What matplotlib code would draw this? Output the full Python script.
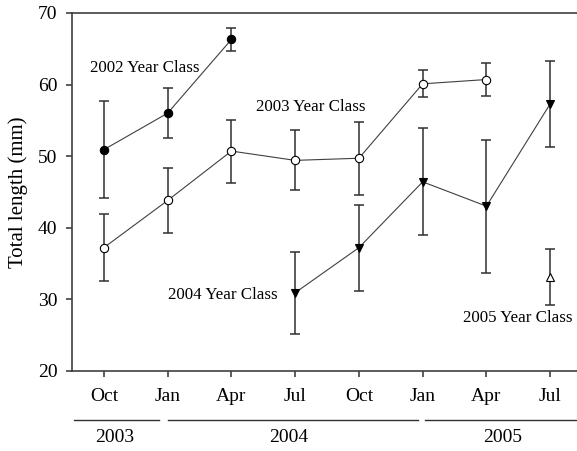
import numpy as np
import matplotlib
matplotlib.use('Agg')
import matplotlib.pyplot as plt
from matplotlib import transforms

plt.rcParams['font.family'] = ['Liberation Serif', 'DejaVu Serif']

months = ['Oct', 'Jan', 'Apr', 'Jul', 'Oct', 'Jan', 'Apr', 'Jul']
years = ['2003', '2004', '2005']

#
# mean total length and sd for each year class, indexed by sampling date
#
x2002 = [0, 1, 2]
len2002 = [50.9, 56.0, 66.3]
sd2002 = [6.8, 3.5, 1.6]

x2003 = [0, 1, 2, 3, 4, 5, 6]
len2003 = [37.2, 43.8, 50.7, 49.4, 49.7, 60.1, 60.7]
sd2003 = [4.7, 4.6, 4.4, 4.2, 5.1, 1.9, 2.3]

x2004 = [3, 4, 5, 6, 7]
len2004 = [30.9, 37.2, 46.4, 43.0, 57.3]
sd2004 = [5.7, 6.0, 7.5, 9.3, 6.0]

x2005 = [7]
len2005 = [33.1]
sd2005 = [3.9]

dark = '#303030'

fig = plt.figure(figsize=(5.77, 4.51), dpi=100)
ax = fig.add_axes([0.1248, 0.178, 0.884, 0.7932])

def draw_class(x, y, sd, marker, face):
    ax.errorbar(x, y, yerr=sd, fmt='none', ecolor=dark, elinewidth=1.1,
                capsize=3.8, capthick=1.1, zorder=2)
    ax.plot(x, y, '-', color='#404040', lw=0.8, zorder=3)
    ax.plot(x, y, linestyle='none', marker=marker, ms=6, mfc=face,
            mec='black', mew=0.8, zorder=4)

draw_class(x2002, len2002, sd2002, 'o', 'black')
draw_class(x2003, len2003, sd2003, 'o', 'white')
draw_class(x2004, len2004, sd2004, 'v', 'black')
draw_class(x2005, len2005, sd2005, '^', 'white')

lab_size = 12.2
ax.text(-0.21, 62.3, '2002 Year Class', fontsize=lab_size, va='center')
ax.text(2.38, 56.9, '2003 Year Class', fontsize=lab_size, va='center')
ax.text(1.01, 30.55, '2004 Year Class', fontsize=lab_size, va='center')
ax.text(5.64, 27.4, '2005 Year Class', fontsize=lab_size, va='center')

ax.set_xlim(-0.5, 7.5)
ax.set_ylim(20, 70)
ax.set_yticks(np.arange(20, 71, 10))
ax.set_xticks(range(len(months)))
ax.set_xticklabels(months)
ax.tick_params(axis='both', direction='out', length=4.5, width=1.1,
               color=dark, labelsize=14, labelcolor='black')
ax.tick_params(axis='y', pad=6)
ax.tick_params(axis='x', pad=8)
ax.set_ylabel('Total length (mm)', fontsize=15, labelpad=7)

for side in ['left', 'top', 'bottom', 'right']:
    ax.spines[side].set_color('#404040')
    ax.spines[side].set_linewidth(1.2)

# year brackets under the month labels
trans = transforms.blended_transform_factory(ax.transData, ax.transAxes)
spans = [(-0.47, 0.86), (1.0, 4.93), (5.04, 7.6)]
centers = [0.17, 2.9, 6.25]
for (x0, x1), xc, yr in zip(spans, centers, years):
    ax.plot([x0, x1], [-0.138, -0.138], color=dark, lw=1.0,
            transform=trans, clip_on=False)
    ax.text(xc, -0.188, yr, fontsize=14, ha='center', va='center',
            transform=trans)

fig.savefig('out.png', dpi=100)
